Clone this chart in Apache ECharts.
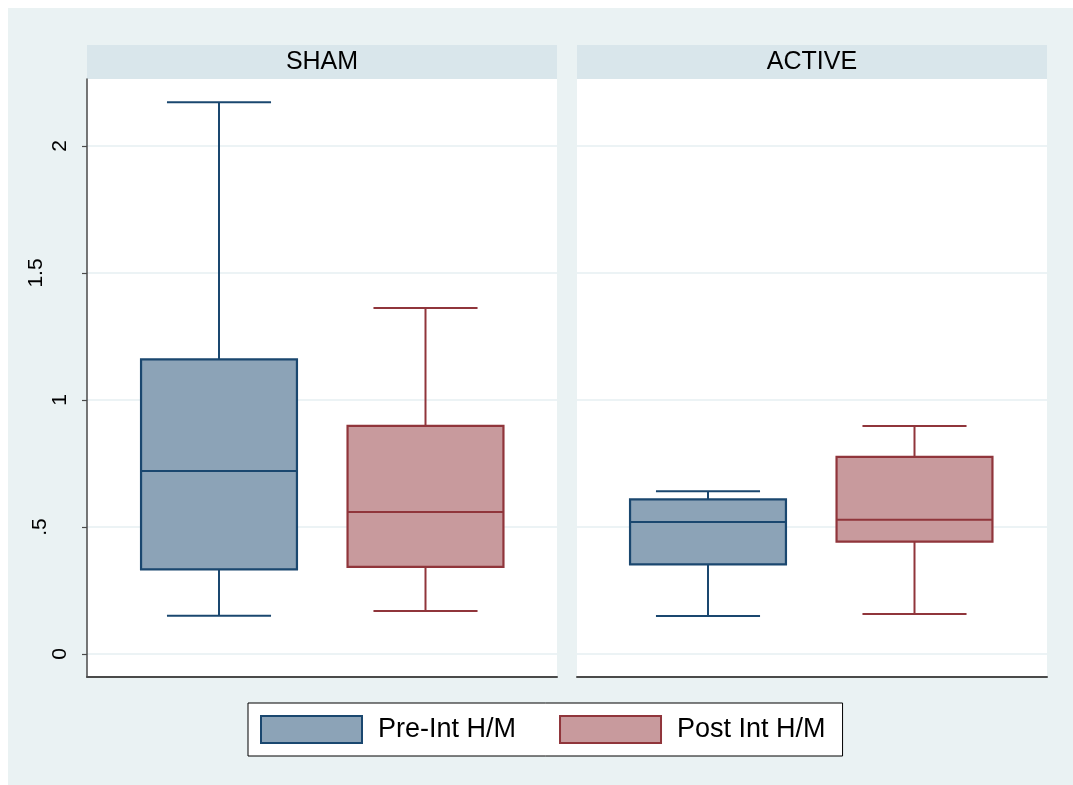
<!DOCTYPE html>
<html>
<head>
<meta charset="utf-8">
<script src="https://cdn.jsdelivr.net/npm/echarts@6/dist/echarts.min.js"></script>
<style>
  html, body { margin: 0; padding: 0; background: #ffffff; }
  #main { width: 1073px; height: 785px; }
</style>
</head>
<body>
<div id="main"></div>
<script>
// ---- data ----
const groups = ['SHAM', 'ACTIVE'];
const measures = ['Pre-Int H/M', 'Post Int H/M'];
// [min (lower whisker), Q1, median, Q3, max (upper whisker)]
const shamPre    = [0.151, 0.333, 0.720, 1.160, 2.172];
const shamPost   = [0.169, 0.343, 0.559, 0.898, 1.362];
const activePre  = [0.150, 0.353, 0.520, 0.609, 0.641];
const activePost = [0.157, 0.442, 0.529, 0.776, 0.898];
const yTicks = [0, 0.5, 1, 1.5, 2];
const yTickLabels = ['0', '.5', '1', '1.5', '2'];

// ---- style ----
const FONT = '"Liberation Sans", Arial, Helvetica, sans-serif';
const navy = '#1A476F', navyFill = '#8CA3B7';
const maroon = '#90353B', maroonFill = '#C89A9D';
const bgOuter = '#EAF2F3', stripColor = '#D9E6EB', gridColor = '#E6EFF2';
const axisColor = '#4A4A4A';
const yMin = -0.0906, yMax = 2.2638;

const panelTop = 79, panelHeight = 598;
const panels = [
  { left: 87, width: 470, dataLeft: 115.75, dataWidth: 413 },
  { left: 577, width: 470, dataLeft: 604.75, dataWidth: 413 }
];

const labelStyleKey = { '1.5': 'w', '.5': 'h' };

const grids = [];
const xAxes = [];
const yAxes = [];
panels.forEach((p, i) => {
  // frame grid
  grids.push({ left: p.left, top: panelTop, width: p.width, height: panelHeight,
               show: true, backgroundColor: '#ffffff', borderWidth: 0, containLabel: false });
  xAxes.push({ gridIndex: grids.length - 1, type: 'value', min: 0, max: 1,
               axisLine: { show: true, onZero: false, lineStyle: { color: axisColor, width: 2 } },
               axisTick: { show: false }, axisLabel: { show: false }, splitLine: { show: false } });
  yAxes.push({ gridIndex: grids.length - 1, type: 'value', min: yMin, max: yMax,
               axisLine: { show: i === 0, lineStyle: { color: axisColor, width: 1.5 } },
               axisTick: { show: i === 0, customValues: yTicks, length: 5, lineStyle: { color: axisColor, width: 1.2 } },
               axisLabel: {
                 show: i === 0, customValues: yTicks, rotate: 90, margin: 16,
                 color: '#000', fontSize: 21, fontFamily: FONT,
                 formatter: v => {
                   const idx = yTicks.indexOf(+v.toFixed(4));
                   const s = idx >= 0 ? yTickLabels[idx] : '';
                   const k = labelStyleKey[s] || 'n';
                   return '{' + k + '|' + s + '}';
                 },
                 rich: {
                   n: { fontSize: 21, fontFamily: FONT, color: '#000', lineHeight: 21 },
                   w: { fontSize: 21, fontFamily: FONT, color: '#000', lineHeight: 21, padding: [0, 0, 49, 0] },
                   h: { fontSize: 21, fontFamily: FONT, color: '#000', lineHeight: 21, padding: [0, 0, 41, 0] }
                 }
               },
               splitLine: { show: true, lineStyle: { color: gridColor, width: 1.5 } } });
});
panels.forEach((p) => {
  // data grid
  grids.push({ left: p.dataLeft, top: panelTop, width: p.dataWidth, height: panelHeight, show: false });
  xAxes.push({ gridIndex: grids.length - 1, type: 'category', data: measures, boundaryGap: true, show: false });
  yAxes.push({ gridIndex: grids.length - 1, type: 'value', min: yMin, max: yMax, show: false });
});

function boxRender(strokeColor, fillColor) {
  return function (params, api) {
    const c = api.value(0);
    const lo = api.coord([c, api.value(1)]);
    const q1 = api.coord([c, api.value(2)]);
    const md = api.coord([c, api.value(3)]);
    const q3 = api.coord([c, api.value(4)]);
    const hi = api.coord([c, api.value(5)]);
    const band = api.size([1, 0])[0];
    const bw = band * 0.755, cw = band * 0.504;
    const x = lo[0];
    const lineStyle = { stroke: strokeColor, lineWidth: 2, fill: null };
    return {
      type: 'group',
      children: [
        { type: 'line', shape: { x1: x, y1: q3[1], x2: x, y2: hi[1] }, style: lineStyle },
        { type: 'line', shape: { x1: x, y1: q1[1], x2: x, y2: lo[1] }, style: lineStyle },
        { type: 'line', shape: { x1: x - cw / 2, y1: hi[1], x2: x + cw / 2, y2: hi[1] }, style: lineStyle },
        { type: 'line', shape: { x1: x - cw / 2, y1: lo[1], x2: x + cw / 2, y2: lo[1] }, style: lineStyle },
        { type: 'rect', shape: { x: x - bw / 2, y: q3[1], width: bw, height: q1[1] - q3[1] },
          style: { fill: fillColor, stroke: strokeColor, lineWidth: 2.2 } },
        { type: 'line', shape: { x1: x - bw / 2, y1: md[1], x2: x + bw / 2, y2: md[1] }, style: lineStyle }
      ]
    };
  };
}

function mkSeries(name, cat, vals, gridIdx, stroke, fill) {
  return {
    type: 'custom', name: name,
    xAxisIndex: gridIdx, yAxisIndex: gridIdx,
    encode: { x: 0, y: [1, 2, 3, 4, 5] },
    data: [[cat].concat(vals)],
    renderItem: boxRender(stroke, fill),
    itemStyle: { color: fill, borderColor: stroke },
    silent: true
  };
}

const series = [
  mkSeries(measures[0], measures[0], shamPre, 2, navy, navyFill),
  mkSeries(measures[1], measures[1], shamPost, 2, maroon, maroonFill),
  mkSeries(measures[0], measures[0], activePre, 3, navy, navyFill),
  mkSeries(measures[1], measures[1], activePost, 3, maroon, maroonFill)
];

const option = {
  backgroundColor: '#ffffff',
  animation: false,
  graphic: {
    elements: [
      { type: 'rect', z: -100, shape: { x: 8, y: 8, width: 1065, height: 777 }, style: { fill: bgOuter } },
      { type: 'rect', z: -50, shape: { x: 87, y: 45, width: 470, height: 34 }, style: { fill: stripColor } },
      { type: 'rect', z: -50, shape: { x: 577, y: 45, width: 470, height: 34 }, style: { fill: stripColor } },
      { type: 'text', x: 322, y: 62, style: { text: groups[0], align: 'center', verticalAlign: 'middle',
        fontSize: 25, fontFamily: FONT, fill: '#000' } },
      { type: 'text', x: 812, y: 62, style: { text: groups[1], align: 'center', verticalAlign: 'middle',
        fontSize: 25, fontFamily: FONT, fill: '#000' } }
    ]
  },
  grid: grids,
  xAxis: xAxes,
  yAxis: yAxes,
  legend: {
    left: 248, top: 703, orient: 'horizontal',
    padding: [12, 17, 12, 12],
    backgroundColor: '#ffffff', borderColor: '#000', borderWidth: 1,
    itemWidth: 101, itemHeight: 27, itemGap: 43,
    selectedMode: false,
    textStyle: { fontSize: 27, fontFamily: FONT, color: '#000', lineHeight: 27, padding: [0, 0, 0, 11] },
    data: [
      { name: measures[0], icon: 'rect', itemStyle: { color: navyFill, borderColor: navy, borderWidth: 2 } },
      { name: measures[1], icon: 'rect', itemStyle: { color: maroonFill, borderColor: maroon, borderWidth: 2 } }
    ]
  },
  series: series
};

const chart = echarts.init(document.getElementById('main'), null, { renderer: 'canvas' });
chart.setOption(option);
</script>
</body>
</html>
